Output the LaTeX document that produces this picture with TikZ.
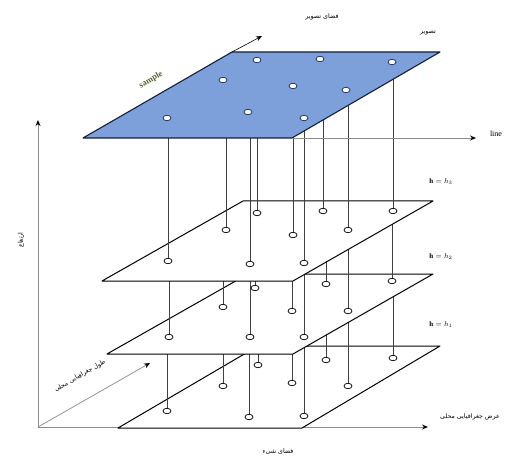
\documentclass[tikz,border=0pt]{standalone}
\usepackage{fontspec}
\setmainfont{Liberation Serif}
\newfontfamily\fa[Script=Arabic]{DejaVu Sans}
\TeXXeTstate=1
\usetikzlibrary{shapes.geometric,arrows.meta}
\definecolor{planeblue}{RGB}{125,160,218}
\definecolor{navyedge}{RGB}{20,30,60}
\definecolor{dotnavy}{RGB}{25,45,95}
\definecolor{samplegreen}{RGB}{80,98,40}
\begin{document}
\begin{tikzpicture}[x=1pt,y=-1pt,
  plane/.style={draw=black,line width=1pt,fill=white,line join=round},
  topplane/.style={draw=navyedge,line width=1.1pt,fill=planeblue,line join=round},
  dot/.style={ellipse,draw=black,fill=white,line width=0.7pt,minimum width=8pt,minimum height=5.5pt,inner sep=0pt},
  tdot/.style={dot,draw=dotnavy},
  vline/.style={draw=black!75,line width=0.5pt},
  axisline/.style={draw=black!45,line width=0.9pt,-{Stealth[length=6pt,width=5pt,black]}},
  fatext/.style={font=\fa\fontsize{6.3}{7}\selectfont},
  latext/.style={font=\fontsize{7}{8}\selectfont}
]
\useasboundingbox (0,0) rectangle (514,457);

% plane corners
\coordinate (TBL) at (83,138);  \coordinate (TBR) at (292,138);
\coordinate (TTR) at (440,52);  \coordinate (TTL) at (232,52);
\coordinate (ABL) at (102,281); \coordinate (ABR) at (293,281);
\coordinate (ATR) at (433,201); \coordinate (ATL) at (243,201);
\coordinate (BBL) at (107,354); \coordinate (BBR) at (293,354);
\coordinate (BTR) at (433,274); \coordinate (BTL) at (248,274);
\coordinate (CBL) at (118,428); \coordinate (CBR) at (302,428);
\coordinate (CTR) at (440,346); \coordinate (CTL) at (258,346);

% dot positions
\foreach \n/\x/\y in {1/167/118,2/223/80,3/257/60,4/248/112,5/293/86,6/320/59,7/304/118,8/346/90,9/392/62}
  \coordinate (t\n) at (\x,\y);
\foreach \n/\x/\y in {1/168/261,2/226/230,3/257/213,4/250/264,5/293/235,6/323/211,7/304/263,8/348/230,9/393/211}
  \coordinate (a\n) at (\x,\y);
\foreach \n/\x/\y in {1/169/337,2/223/307,3/255/288,4/250/337,5/292/311,6/326/284,7/304/337,8/348/311,9/392/281}
  \coordinate (b\n) at (\x,\y);
\foreach \n/\x/\y in {1/167/411,2/223/386,3/258/365,4/249/417,5/292/383,6/326/360,7/304/416,8/348/386,9/393/358}
  \coordinate (c\n) at (\x,\y);

% axes
\coordinate (O) at (38,427);
\coordinate (Oz) at (38,120);
\coordinate (Ox) at (428,427);
\coordinate (Oy) at (150,363);
\draw[axisline] (O) -- (Oz);
\draw[axisline] (O) -- (Ox);
\draw[axisline,line width=0.7pt] (O) -- (Oy);

% plane 1
\draw[plane] (CBL) -- (CBR) -- (CTR) -- (CTL) -- cycle;
\foreach \n in {1,...,9} \draw[vline] (c\n |- b\n) -- (c\n);
\foreach \n in {1,...,9} \node[dot] (C\n) at (c\n) {};

% plane 2
\draw[plane] (BBL) -- (BBR) -- (BTR) -- (BTL) -- cycle;
\foreach \n in {1,...,9} \draw[vline] (b\n |- a\n) -- (b\n);
\foreach \n in {1,...,9} \node[dot] (B\n) at (b\n) {};

% plane 3
\draw[plane] (ABL) -- (ABR) -- (ATR) -- (ATL) -- cycle;
\foreach \n in {1,...,9} \draw[vline] (a\n |- t\n) -- (a\n);
\foreach \n in {1,...,9} \node[dot] (A\n) at (a\n) {};

% top (image) plane
\draw[topplane] (TBL) -- (TBR) -- (TTR) -- (TTL) -- cycle;
\foreach \n in {1,...,9} \node[tdot] (T\n) at (t\n) {};

% sample and line arrows
\coordinate (sampleend) at (262,36);
\coordinate (lineend) at (476,138);
\draw[line width=0.6pt,-{Stealth[length=6pt,width=5pt]}] (TTL) -- (sampleend);
\draw[axisline] (TBR) -- (lineend);

% labels
\node[font=\bfseries\fontsize{8.5}{9}\selectfont,text=samplegreen,rotate=30,inner sep=0pt] (lsample) at (151,80) {sample};
\node[font=\fontsize{8}{9}\selectfont] (lline) at (496,134) {line};
\node[latext] (lh3) at (441,182) {$\mathbf{h}=h_3$};
\node[latext] (lh2) at (441,257) {$\mathbf{h}=h_2$};
\node[latext] (lh1) at (441,325) {$\mathbf{h}=h_1$};
\node[fatext] (limgspace) at (322,17) {\beginR فضای تصویر\endR};
\node[fatext] (limg) at (428,33) {\beginR تصویر\endR};
\node[fatext,rotate=90] (lheight) at (21,240) {\beginR ارتفاع\endR};
\node[fatext,rotate=30,inner sep=0pt] (llon) at (80,376) {\beginR طول جغرافیایی محلی\endR};
\node[fatext] (llat) at (470,417) {\beginR عرض جغرافیایی محلی\endR};
\node[fatext] (lobj) at (278,452) {\beginR فضای شیء\endR};
\end{tikzpicture}
\end{document}
